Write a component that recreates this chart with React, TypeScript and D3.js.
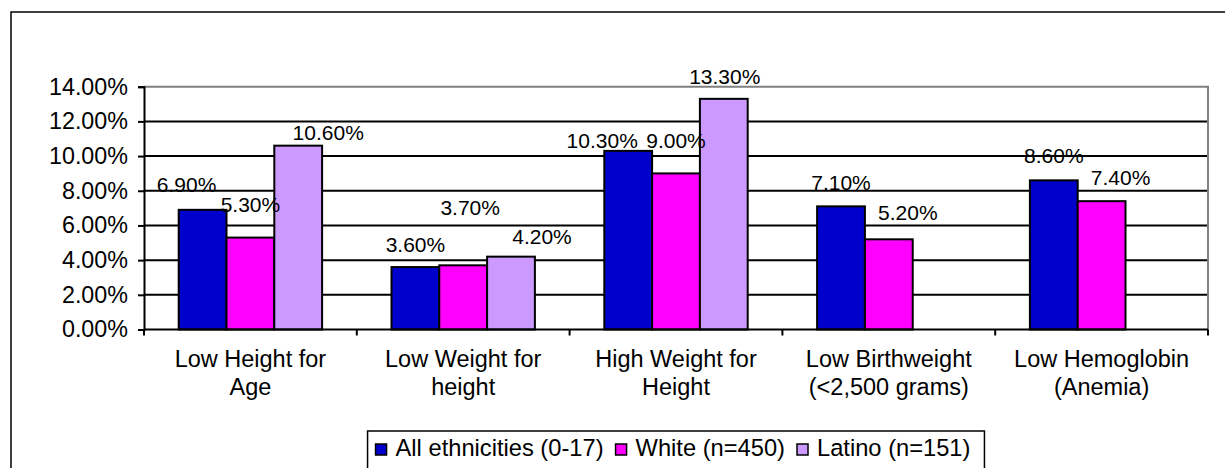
// Grouped bar chart: growth / anemia indicators by ethnicity
import React, { useEffect, useRef } from 'react';
import * as d3 from 'd3';

const categories = [
  'Low Height for\nAge',
  'Low Weight for\nheight',
  'High Weight for\nHeight',
  'Low Birthweight\n(<2,500 grams)',
  'Low Hemoglobin\n(Anemia)',
];
const seriesNames = ['All ethnicities (0-17)', 'White (n=450)', 'Latino (n=151)'];
const allValues = [6.9, 3.6, 10.3, 7.1, 8.6];
const whiteValues = [5.3, 3.7, 9.0, 5.2, 7.4];
const latinoValues: (number | null)[] = [10.6, 4.2, 13.3, null, null];
const yTicks = [0, 2, 4, 6, 8, 10, 12, 14];

const colors = ['#0000CC', '#FF00FF', '#CC99FF'];
// label nudges [dx, dy above bar top], as Excel left them
const labelNudge: ([number, number] | null)[][] = [
  [[-16, -18], [0, -15], [-26, -3], [0, -16], [0, -17]],
  [[0, -26], [7, -50], [0, -25], [19, -19], [19, -16]],
  [[30, -6], [31, -13], [1, -15], null, null],
];

const W = 1225;
const H = 468;
const FONT = '"Liberation Sans", Arial, sans-serif';

const App = () => {
  const svgRef = useRef<SVGSVGElement>(null);

  useEffect(() => {
    if (!svgRef.current) return;
    const svg = d3.select(svgRef.current);
    svg.selectAll('*').remove();

    const plot = { left: 144, right: 1208, top: 86.7, bottom: 329.5 };
    const series = [allValues, whiteValues, latinoValues];

    // outer chart border
    svg.append('rect')
      .attr('x', 11).attr('y', 12)
      .attr('width', W + 50).attr('height', H + 50)
      .attr('fill', '#fff').attr('stroke', '#000').attr('stroke-width', 1.5);

    const y = d3.scaleLinear().domain([0, 14]).range([plot.bottom, plot.top]);
    const x0 = d3.scaleBand<string>().domain(categories).range([plot.left, plot.right]);
    const x1 = d3.scaleBand<string>()
      .domain(seriesNames)
      .range([0, x0.bandwidth()])
      .paddingInner(0)
      .paddingOuter(0.726);

    // gridlines
    svg.append('g')
      .selectAll('line')
      .data(yTicks.filter(t => t > 0 && t < 14))
      .enter()
      .append('line')
      .attr('x1', plot.left).attr('x2', plot.right)
      .attr('y1', d => y(d)).attr('y2', d => y(d))
      .attr('stroke', '#000').attr('stroke-width', 2);

    // plot border (top & right, grey)
    svg.append('path')
      .attr('d', `M${plot.left},${y(14)}H${plot.right}V${plot.bottom}`)
      .attr('fill', 'none').attr('stroke', '#808080').attr('stroke-width', 2);

    // bars
    series.forEach((vals, si) => {
      svg.append('g')
        .selectAll('rect')
        .data(vals.map((v, i) => ({ v, c: categories[i] })).filter(d => d.v != null))
        .enter()
        .append('rect')
        .attr('x', d => (x0(d.c) || 0) + (x1(seriesNames[si]) || 0))
        .attr('y', d => y(d.v as number))
        .attr('width', x1.bandwidth())
        .attr('height', d => y(0) - y(d.v as number))
        .attr('fill', colors[si])
        .attr('stroke', '#000')
        .attr('stroke-width', 2);
    });

    // y axis
    const yAxis = svg.append('g')
      .attr('transform', `translate(${plot.left},0)`)
      .call(d3.axisLeft(y).tickValues(yTicks).tickSize(6).tickPadding(10)
        .tickFormat(d => `${(+d).toFixed(2)}%`));
    yAxis.select('.domain').attr('stroke', '#000').attr('stroke-width', 2);
    yAxis.selectAll('.tick line').attr('stroke', '#000').attr('stroke-width', 2);
    yAxis.selectAll('.tick text')
      .attr('font-family', FONT).attr('font-size', 23.3).attr('fill', '#000');

    // x axis
    const xAxis = svg.append('g')
      .attr('transform', `translate(0,${plot.bottom})`);
    xAxis.append('line')
      .attr('x1', plot.left).attr('x2', plot.right)
      .attr('stroke', '#000').attr('stroke-width', 2);
    const bounds = [plot.left, ...categories.map(c => (x0(c) || 0) + x0.bandwidth())];
    xAxis.selectAll('line.tk')
      .data(bounds)
      .enter()
      .append('line')
      .attr('class', 'tk')
      .attr('x1', d => d).attr('x2', d => d)
      .attr('y1', 0).attr('y2', 6)
      .attr('stroke', '#000').attr('stroke-width', 2);

    const catText = xAxis.selectAll('text.cat')
      .data(categories)
      .enter()
      .append('text')
      .attr('class', 'cat')
      .attr('x', d => (x0(d) || 0) + x0.bandwidth() / 2)
      .attr('y', 37)
      .attr('text-anchor', 'middle')
      .attr('font-family', FONT)
      .attr('font-size', 23.5)
      .attr('fill', '#000');
    catText.each(function (d) {
      const lines = d.split('\n');
      const t = d3.select(this);
      const cx = t.attr('x');
      lines.forEach((ln, li) => {
        t.append('tspan').attr('x', cx).attr('dy', li === 0 ? 0 : 28.3).text(ln);
      });
    });

    // data labels
    series.forEach((vals, si) => {
      vals.forEach((v, i) => {
        if (v == null) return;
        const nudge = labelNudge[si][i] || [0, -16];
        const cx = (x0(categories[i]) || 0) + (x1(seriesNames[si]) || 0) + x1.bandwidth() / 2;
        svg.append('text')
          .attr('x', cx + nudge[0])
          .attr('y', y(v) + nudge[1])
          .attr('text-anchor', 'middle')
          .attr('font-family', FONT)
          .attr('font-size', 21)
          .attr('fill', '#000')
          .text(`${v.toFixed(2)}%`);
      });
    });

    // legend
    const legend = svg.append('g');
    const box = legend.append('rect')
      .attr('fill', '#fff').attr('stroke', '#000').attr('stroke-width', 1.5);
    let cursor = 0;
    const entries = legend.append('g');
    seriesNames.forEach((name, si) => {
      const e = entries.append('g').attr('transform', `translate(${cursor},0)`);
      e.append('rect')
        .attr('x', 0).attr('y', -12)
        .attr('width', 11).attr('height', 11)
        .attr('fill', colors[si]).attr('stroke', '#000').attr('stroke-width', 1.5);
      const t = e.append('text')
        .attr('x', 20).attr('y', 0)
        .attr('font-family', FONT).attr('font-size', 23.7).attr('fill', '#000')
        .text(name);
      const tw = (t.node() as SVGTextElement).getComputedTextLength();
      cursor += 20 + tw + 12;
    });
    const totalW = cursor - 12;
    const boxW = totalW + 8 + 14;
    const boxX = (plot.left + plot.right) / 2 - boxW / 2;
    box.attr('x', boxX).attr('y', 431).attr('width', boxW).attr('height', 60);
    entries.attr('transform', `translate(${boxX + 8},${456})`);
  }, []);

  return (
    <svg
      ref={svgRef}
      width={W}
      height={H}
      style={{ position: 'absolute', left: 0, top: 0, background: '#fff' }}
    />
  );
};

export default App;
